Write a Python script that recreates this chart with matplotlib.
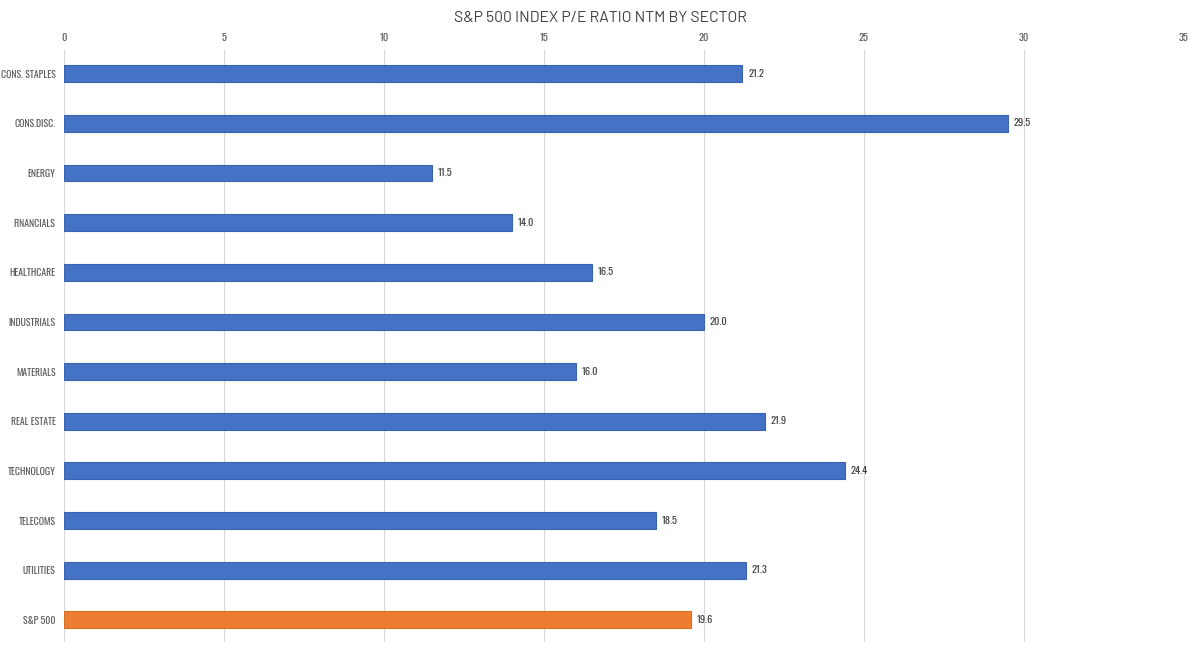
import matplotlib
matplotlib.use("Agg")
import matplotlib.pyplot as plt

# date
sectors = ["CONS. STAPLES", "CONS.DISC.", "ENERGY", "FINANCIALS", "HEALTHCARE",
           "INDUSTRIALS", "MATERIALS", "REAL ESTATE", "TECHNOLOGY", "TELECOMS",
           "UTILITIES", "S&P 500"]
pe_ntm = [21.2, 29.5, 11.5, 14.0, 16.5, 20.0, 16.0, 21.9, 24.4, 18.5, 21.3, 19.6]
x_ticks = [0, 5, 10, 15, 20, 25, 30, 35]

plt.rcParams["font.family"] = ["Oswald", "DejaVu Sans"]

fig = plt.figure(figsize=(12, 6.56), dpi=100)
ax = fig.add_axes([0.0533, 0.021, 0.9334, 0.903])

# ultima bara (indicele) in portocaliu
colors = ["#4472C4"] * (len(sectors) - 1) + ["#ED7D31"]
edges = ["#3A64B0"] * (len(sectors) - 1) + ["#D86F28"]
ypos = list(range(len(sectors)))
ax.barh(ypos, pe_ntm, height=0.34, color=colors, edgecolor=edges, linewidth=0.8, zorder=3)

for y, v in zip(ypos, pe_ntm):
    ax.text(v + 0.18, y, f"{v:.1f}", va="center", ha="left", fontsize=7.5, color="#404040")

ax.set_xlim(0, 35)
ax.set_ylim(len(sectors) - 0.55, -0.48)
ax.set_xticks(x_ticks)
ax.xaxis.tick_top()
ax.set_yticks(ypos)
ax.set_yticklabels(sectors)
ax.tick_params(axis="both", length=0, labelsize=7, colors="#595959")
ax.tick_params(axis="x", labelsize=7.5, pad=5)
ax.tick_params(axis="y", pad=6)
ax.grid(axis="x", color="#D9D9D9", linewidth=0.8, zorder=0)
for s in ax.spines.values():
    s.set_visible(False)

fig.text(0.5, 0.972, "S&P 500 INDEX P/E RATIO NTM BY SECTOR", ha="center", va="center",
         fontsize=11.3, color="#404040", family=["Barlow", "DejaVu Sans"])

plt.savefig("out.png", dpi=100)
